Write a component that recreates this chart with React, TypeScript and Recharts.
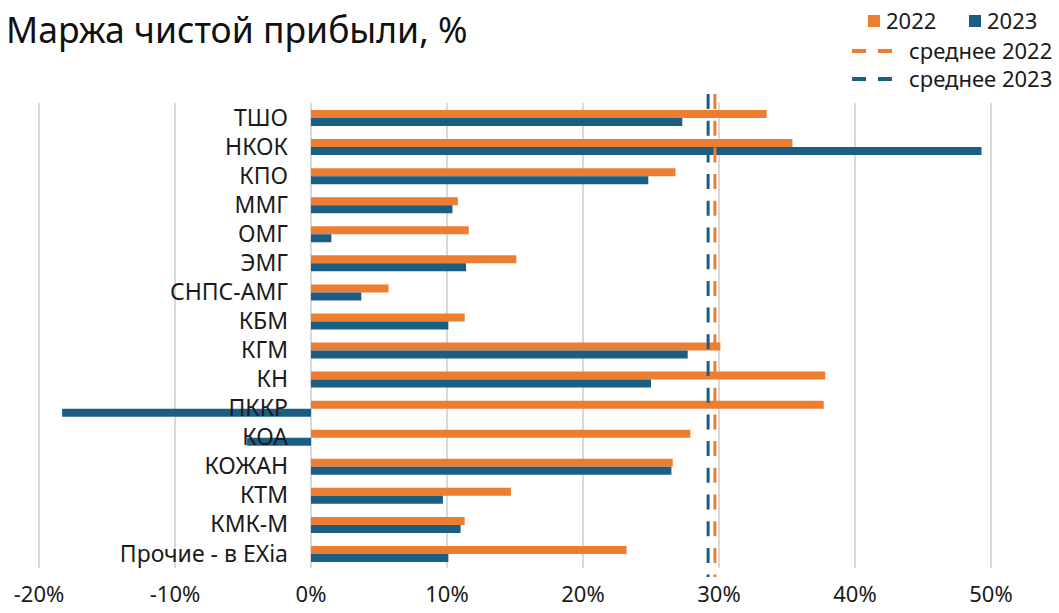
import React from 'react'
import {
  BarChart,
  Bar,
  XAxis,
  YAxis,
  CartesianGrid,
  ReferenceLine,
} from 'recharts'

// Companies, top to bottom
const companies = [
  'ТШО', 'НКОК', 'КПО', 'ММГ', 'ОМГ', 'ЭМГ', 'СНПС-АМГ', 'КБМ',
  'КГМ', 'КН', 'ПККР', 'КОА', 'КОЖАН', 'КТМ', 'КМК-М', 'Прочие - в EXia',
]
const margin2022 = [33.5, 35.4, 26.8, 10.8, 11.6, 15.1, 5.7, 11.3, 30.1, 37.8, 37.7, 27.9, 26.6, 14.7, 11.3, 23.2]
const margin2023 = [27.3, 49.3, 24.8, 10.4, 1.5, 11.4, 3.7, 10.1, 27.7, 25.0, -18.3, -4.7, 26.5, 9.7, 11.0, 10.1]
const avg2022 = 29.7
const avg2023 = 29.2
const xTicks = [-20, -10, 0, 10, 20, 30, 40, 50]

const ORANGE = '#ED7D31'
const BLUE = '#1A5F83'
const FONT = '"Noto Sans", "Liberation Sans", sans-serif'

const W = 1059
const H = 613
const M = { top: 103, right: 68, bottom: 15, left: 38 }
const Y_W = 1
const X_MIN = -20
const X_MAX = 50

const chartData = companies.map((name, i) => ({
  name,
  y2022: margin2022[i],
  y2023: margin2023[i],
}))

// category labels sit just left of the 0% line, as in the Excel original
const plotLeft = M.left + Y_W
const plotW = W - plotLeft - M.right
const zeroX = plotLeft + ((0 - X_MIN) / (X_MAX - X_MIN)) * plotW

const renderCategoryTick = ({ y, payload }: any) => (
  <text
    key={payload.value}
    x={zeroX - 23}
    y={y}
    dy="0.35em"
    textAnchor="end"
    fontSize={23}
    fontFamily={FONT}
    fill="#1a1a1a"
  >
    {payload.value}
  </text>
)

const DashedAvg = (p: any) => (
  <line
    x1={p.x1}
    x2={p.x2}
    y1={Math.min(p.y1, p.y2) - 9}
    y2={Math.max(p.y1, p.y2) + 9}
    stroke={p.stroke}
    strokeWidth={3}
    strokeDasharray="15 11.7"
  />
)

export default function App() {
  return (
    <div style={{ position: 'absolute', left: 0, top: 0, width: W, height: H, background: '#fff', fontFamily: FONT }}>
      <div style={{ position: 'absolute', left: 6, top: 6, fontSize: 35.5, color: '#111', whiteSpace: 'nowrap', lineHeight: 1.3 }}>
        Маржа чистой прибыли, %
      </div>

      {/* legend */}
      <div style={{ position: 'absolute', left: 0, top: 0, fontSize: 22, color: '#1a1a1a', lineHeight: 1.3 }}>
        <span style={{ position: 'absolute', left: 868, top: 15, width: 12, height: 12, background: ORANGE }} />
        <span style={{ position: 'absolute', left: 886, top: 6, whiteSpace: 'nowrap' }}>2022</span>
        <span style={{ position: 'absolute', left: 969, top: 15, width: 12, height: 12, background: BLUE }} />
        <span style={{ position: 'absolute', left: 987, top: 6, whiteSpace: 'nowrap' }}>2023</span>
        <span style={{ position: 'absolute', left: 852, top: 49, width: 14, height: 4, background: ORANGE }} />
        <span style={{ position: 'absolute', left: 878, top: 49, width: 14, height: 4, background: ORANGE }} />
        <span style={{ position: 'absolute', left: 909, top: 36, whiteSpace: 'nowrap' }}>среднее 2022</span>
        <span style={{ position: 'absolute', left: 852, top: 77, width: 14, height: 4, background: BLUE }} />
        <span style={{ position: 'absolute', left: 878, top: 77, width: 14, height: 4, background: BLUE }} />
        <span style={{ position: 'absolute', left: 909, top: 64, whiteSpace: 'nowrap' }}>среднее 2023</span>
      </div>

      <div style={{ position: 'absolute', left: 0, top: 0 }}>
        <BarChart
          width={W}
          height={H}
          data={chartData}
          layout="vertical"
          margin={M}
          barSize={8}
          barGap={0}
        >
          <CartesianGrid horizontal={false} stroke="#d9d9d9" strokeWidth={2} />
          <XAxis
            type="number"
            domain={[X_MIN, X_MAX]}
            ticks={xTicks}
            tickFormatter={(v) => `${v}%`}
            axisLine={false}
            tickLine={false}
            tickMargin={12}
            height={30}
            tick={{ fontSize: 22, fontFamily: FONT, fill: '#1a1a1a' }}
            interval={0}
          />
          <YAxis
            type="category"
            dataKey="name"
            width={Y_W}
            axisLine={false}
            tickLine={false}
            tick={renderCategoryTick}
            interval={0}
          />
          <Bar dataKey="y2022" fill={ORANGE} isAnimationActive={false} />
          <Bar dataKey="y2023" fill={BLUE} isAnimationActive={false} />
          <ReferenceLine x={avg2023} stroke={BLUE} shape={<DashedAvg />} ifOverflow="visible" />
          <ReferenceLine x={avg2022} stroke={ORANGE} shape={<DashedAvg />} ifOverflow="visible" />
        </BarChart>
      </div>
    </div>
  )
}
